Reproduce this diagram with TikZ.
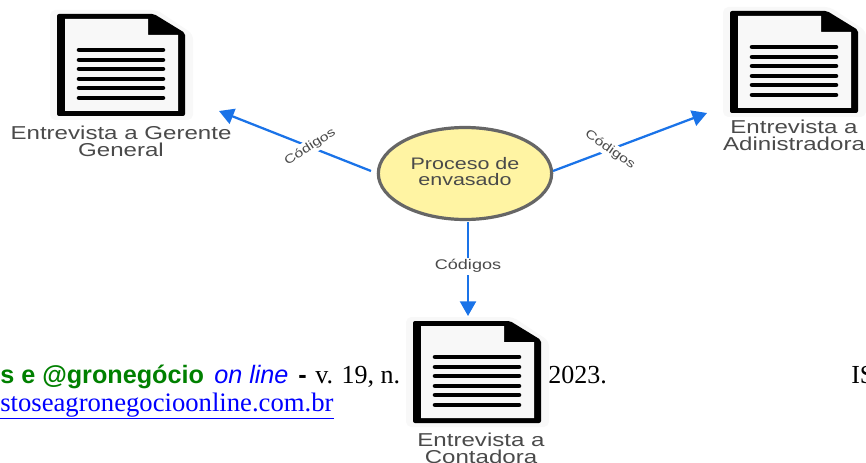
\documentclass[tikz,border=0pt]{standalone}
\usepackage{fontspec}
\setmainfont{Liberation Serif}
\newfontfamily\lsans[FakeStretch=1.29]{Liberation Sans}
\newfontfamily\lsansplain{Liberation Sans}
\usetikzlibrary{arrows.meta,shapes.geometric}
\definecolor{connblue}{HTML}{1A73E8}
\definecolor{capgray}{HTML}{4A4A4A}
\definecolor{procfill}{HTML}{FFF4A3}
\definecolor{procline}{HTML}{666666}
\definecolor{docbg}{HTML}{F8F8F8}
\definecolor{jgreen}{HTML}{008000}
\tikzset{
  x=0.75pt,y=-0.75pt,
  caption/.style={align=center,text=capgray,inner sep=0pt,font=\lsans\fontsize{14}{12.9}\selectfont},
  conn/.style={draw=connblue,line width=1.7pt,-{Triangle[length=11pt,width=12pt]}},
  codelabel/.style={fill=white,text=capgray,inner sep=1.5pt,font=\lsans\fontsize{10.5}{11}\selectfont},
  codeslant/.style={codelabel,font=\lsans\fontsize{9.2}{11}\selectfont},
  proc/.style={ellipse,draw=procline,fill=procfill,line width=2.4pt,minimum width=130pt,minimum height=69pt,inner sep=0pt},
  proctext/.style={align=center,text=capgray,inner sep=0pt,font=\lsans\fontsize{12.5}{12.2}\selectfont},
  foot/.style={inner sep=0pt,anchor=base west},
  times/.style={foot,font=\fontsize{19.5}{22}\selectfont},
  head/.style={foot,font=\lsansplain\fontsize{18.9}{22}\selectfont},
  docicon/.pic={
    \fill[docbg,rounded corners=4pt] (-7,-4)--(100,-4)--(136,20)--(136,106)--(-7,106)--cycle;
    \fill[black,rounded corners=1.5pt] (0,0)--(97,0)--(128,19)--(128,102)--(0,102)--cycle;
    \fill[docbg] (8,5)--(91,5)--(91,21)--(121,21)--(121,97)--(8,97)--cycle;
    \foreach \yy in {36,46,55,65,74,84}
      \draw[black,line width=3.4pt,line cap=round] (22,\yy)--(106,\yy);
  }
}
\begin{document}
\begin{tikzpicture}
\useasboundingbox (0,0) rectangle (866,463);
% footer text
\node[head,text=jgreen] (f1) at (0,383) {\bfseries s e @gronegócio};
\node[head,text=blue] (f1b) at (214,383) {\itshape on line};
\node[head] (f1c) at (298,383) {\bfseries -};
\node[times] (f2) at (315,383) {v. 19, n.};
\node[times] (f3) at (548,383) {2023.};
\node[times] (f4) at (851,383) {IS};
\node[foot,font=\fontsize{20}{22}\selectfont,text=blue] (f5) at (0,411) {\underline{stoseagronegocioonline.com.br}};
% documents
\pic at (57,14) {docicon};
\pic at (730,11) {docicon};
\pic at (413,321) {docicon};
\node[caption] (d1) at (121,141) {Entrevista a Gerente\\General};
\node[caption] (d2) at (794,135) {Entrevista a\\Adinistradora};
\node[caption] (d3) at (481,448) {Entrevista a\\Contadora};
% process
\node[proc] (p) at (465,173.5) {};
\node[proctext] (pt) at (465,171.5) {Proceso de\\envasado};
% connector ends
\coordinate (t1) at (219,111);
\coordinate (s1) at (371,171);
\coordinate (t2) at (707,113);
\coordinate (s2) at (553,171);
\coordinate (t3) at (468,316);
\coordinate (s3) at (468,222);
\draw[conn] (s1)--(t1) node[codeslant,pos=0.4,rotate=33] (l1) {Códigos};
\draw[conn] (s2)--(t2) node[codeslant,pos=0.37,rotate=-35] (l2) {Códigos};
\draw[conn] (s3)--(t3) node[codelabel,pos=0.47] (l3) {Códigos};
\end{tikzpicture}
\end{document}
